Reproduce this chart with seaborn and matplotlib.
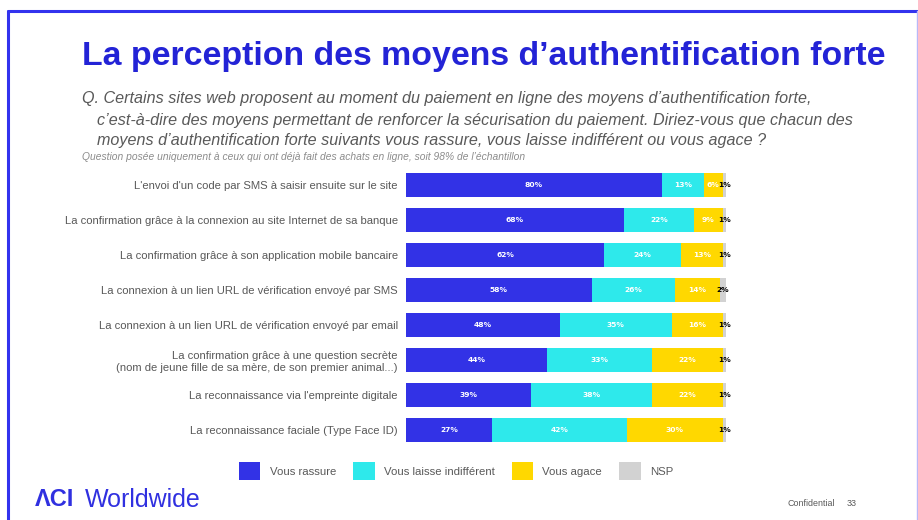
import matplotlib
matplotlib.use("Agg")
import matplotlib.pyplot as plt
import seaborn as sns
import pandas as pd
from matplotlib.patches import Patch
from matplotlib.lines import Line2D

# données
categories = [
    "L'envoi d'un code par SMS à saisir ensuite sur le site",
    "La confirmation grâce à la connexion au site Internet de sa banque",
    "La confirmation grâce à son application mobile bancaire",
    "La connexion à un lien URL de vérification envoyé par SMS",
    "La connexion à un lien URL de vérification envoyé par email",
    "La confirmation grâce à une question secrète\n(nom de jeune fille de sa mère, de son premier animal...)",
    "La reconnaissance via l'empreinte digitale",
    "La reconnaissance faciale (Type Face ID)",
]
rassure = [80, 68, 62, 58, 48, 44, 39, 27]
indifferent = [13, 22, 24, 26, 35, 33, 38, 42]
agace = [6, 9, 13, 14, 16, 22, 22, 30]
nsp = [1, 1, 1, 2, 1, 1, 1, 1]

series_names = ["Vous rassure", "Vous laisse indifférent", "Vous agace", "NSP"]
colors = ["#3232E6", "#2EE9EB", "#FFD800", "#D2D2D2"]
label_colors = ["white", "white", "white", "black"]

df = pd.DataFrame({"cat": categories, "Vous rassure": rassure,
                   "Vous laisse indifférent": indifferent,
                   "Vous agace": agace, "NSP": nsp})

sns.set_style("white")
plt.rcParams['font.family'] = ['Liberation Sans', 'DejaVu Sans']

fig = plt.figure(figsize=(9.18, 5.2), dpi=100)
ax = fig.add_axes([406 / 918, 1 - 447.5 / 520, 320 / 918, 280 / 520])

# barres empilées : on trace les cumuls du plus long au plus court
cum = df[series_names].cumsum(axis=1)
for name, col in reversed(list(zip(series_names, colors))):
    sns.barplot(x=cum[name], y=df["cat"], orient="h", color=col, width=0.69,
                ax=ax, saturation=1, linewidth=0)

# étiquettes de pourcentage
for i in range(len(categories)):
    left = 0
    for name, lc in zip(series_names, label_colors):
        v = df[name][i]
        ax.text(left + v / 2, i, f"{v}%", ha="center", va="center",
                color=lc, fontsize=5.4, fontweight="bold",
                family=["DejaVu Sans"])
        left += v

ax.set_xlim(0, 100)
ax.set_xlabel("")
ax.set_ylabel("")
ax.set_xticks([])
ax.tick_params(axis="y", length=0, pad=6, labelsize=8.1, labelcolor="#595959")
sns.despine(ax=ax, left=True, bottom=True)

# titres
fig.text(82 / 918, 1 - 57 / 520, "La perception des moyens d\u2019authentification forte",
         fontsize=24.4, fontweight="bold", color="#2323D6", va="center")
q_lines = [
    "Q. Certains sites web proposent au moment du paiement en ligne des moyens d\u2019authentification forte,",
    "c\u2019est-à-dire des moyens permettant de renforcer la sécurisation du paiement. Diriez-vous que chacun des",
    "moyens d\u2019authentification forte suivants vous rassure, vous laisse indifférent ou vous agace ?",
]
q_y = [99, 120, 141]
q_x = [82, 97, 97]
for t, y, x in zip(q_lines, q_y, q_x):
    fig.text(x / 918, 1 - y / 520, t, fontsize=11.6, style="italic", color="#595959",
             va="center")
fig.text(82 / 918, 1 - 157.5 / 520,
         "Question posée uniquement à ceux qui ont déjà fait des achats en ligne, soit 98% de l\u2019échantillon",
         fontsize=7.4, style="italic", color="#8C8C8C", va="center")

# légende
handles = [Patch(facecolor=c, edgecolor="none") for c in colors]
fig.legend(handles, series_names, loc="center", bbox_to_anchor=(456 / 918, 1 - 471 / 520),
           ncol=4, frameon=False, fontsize=8.2, handlelength=1.9, handleheight=2.0,
           handletextpad=0.8, columnspacing=1.5, labelcolor="#595959")

# pied de page
fig.text(35 / 918, 1 - 500 / 520, "\u039bCI", fontsize=17, fontweight="bold",
         color="#3030E0", va="center")
fig.text(85 / 918, 1 - 500 / 520, "Worldwide", fontsize=18, color="#3030E0", va="center")
fig.text(788 / 918, 1 - 503 / 520, "Confidential", fontsize=6.4, color="#595959", va="center")
fig.text(847 / 918, 1 - 503 / 520, "33", fontsize=6.4, color="#595959", va="center")

# cadre
top = 1 - 11 / 520
fig.add_artist(Line2D([8 / 918, 917 / 918], [top, top], color="#3333EE", lw=2.2))
fig.add_artist(Line2D([8 / 918, 8 / 918], [0, top], color="#3333EE", lw=2.2))
fig.add_artist(Line2D([916.5 / 918, 916.5 / 918], [0, top], color="#B8B8F8", lw=1))

fig.savefig("out.png", dpi=100)
